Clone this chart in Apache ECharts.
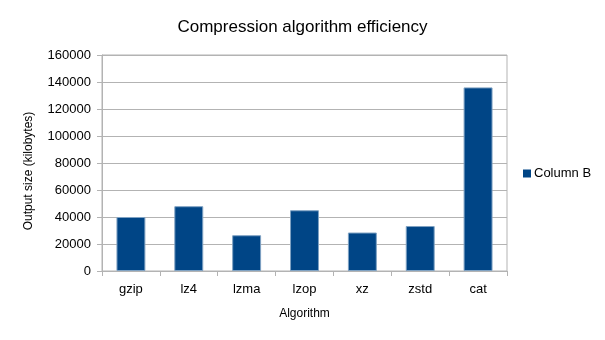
<!DOCTYPE html>
<html><head><meta charset="utf-8">
<script src="https://cdn.jsdelivr.net/npm/echarts@6/dist/echarts.min.js"></script>
<style>html,body{margin:0;padding:0;background:#fff}#c{width:605px;height:340px}</style>
</head><body><div id="c"></div>
<script>
const categories = ['gzip','lz4','lzma','lzop','xz','zstd','cat'];
const columnB = [40000, 48000, 26500, 45000, 28500, 33300, 136000];
const yTicks = [0,20000,40000,60000,80000,100000,120000,140000,160000];

const font = 'Liberation Sans';
const chart = echarts.init(document.getElementById('c'), null, {renderer:'canvas'});
chart.setOption({
  animation: false,
  backgroundColor: '#fff',
  title: {
    text: 'Compression algorithm efficiency',
    left: 'center', top: 14,
    textStyle: {fontFamily: font, fontSize: 17, fontWeight: 'normal', color: '#000'}
  },
  legend: {
    data: ['Column B'], left: 518, top: 162, orient: 'vertical',
    icon: 'rect', itemWidth: 8, itemHeight: 8, itemGap: 4,
    itemStyle: {borderWidth: 0},
    textStyle: {fontFamily: font, fontSize: 13, color: '#000', padding: [0,0,0,-2]}
  },
  grid: {left: 102, right: 98, top: 55, bottom: 69, containLabel: false,
    show: true, borderColor: '#b3b3b3', borderWidth: 1},
  xAxis: {
    type: 'category', data: categories,
    name: 'Algorithm', nameLocation: 'middle', nameGap: 37,
    nameTextStyle: {fontFamily: font, fontSize: 12, color: '#000'},
    axisLine: {lineStyle: {color: '#b3b3b3'}},
    axisTick: {show: true, length: 5, lineStyle: {color: '#b3b3b3'}},
    axisLabel: {fontFamily: font, fontSize: 13, color: '#000', margin: 12},
    splitLine: {show: false}
  },
  yAxis: {
    type: 'value', min: yTicks[0], max: yTicks[yTicks.length-1], interval: 20000,
    name: 'Output size (kilobytes)', nameLocation: 'middle', nameGap: 67,
    nameTextStyle: {fontFamily: font, fontSize: 12, color: '#000', padding: [0,16,0,0]},
    axisLine: {show: true, lineStyle: {color: '#b3b3b3'}},
    axisTick: {show: true, length: 5, lineStyle: {color: '#b3b3b3'}},
    axisLabel: {fontFamily: font, fontSize: 13, color: '#000', margin: 11,
      formatter: v => String(v)},
    splitLine: {lineStyle: {color: '#b3b3b3'}}
  },
  series: [{
    name: 'Column B', type: 'bar', data: columnB, barWidth: '50%',
    itemStyle: {color: '#004586', borderColor: '#7fa2c3', borderWidth: 1}
  }]
});
</script></body></html>
